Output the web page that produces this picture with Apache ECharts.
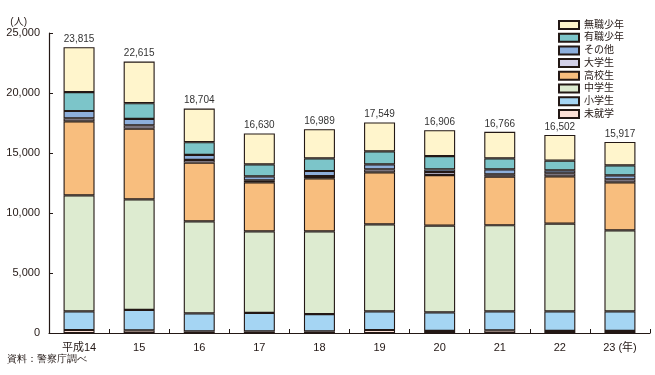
<!DOCTYPE html>
<html>
<head>
<meta charset="utf-8">
<script src="https://cdn.jsdelivr.net/npm/echarts@6/dist/echarts.min.js"></script>
<style>
html, body { margin: 0; padding: 0; background: #fff; }
#chart { width: 655px; height: 375px; }
</style>
</head>
<body>
<div id="chart"></div>
<script>
// 年次（平成）
const years = ['平成14', '15', '16', '17', '18', '19', '20', '21', '22', '23 (年)']
// 学職別の人数（下から積み上げ順）
const mishugaku = [250, 220, 140, 140, 140, 250, 170, 220, 170, 170]
const shogakusei = [1555, 1700, 1500, 1530, 1440, 1560, 1550, 1590, 1640, 1640]
const chugakusei = [9670, 9220, 7670, 6800, 6890, 7250, 7220, 7170, 7300, 6750]
const kokosei = [6165, 5890, 4890, 4090, 4420, 4330, 4220, 4050, 3950, 4000]
const daigakusei = [250, 280, 220, 170, 190, 250, 250, 200, 250, 250]
const sonota = [610, 530, 420, 330, 420, 420, 220, 410, 250, 330]
const yushoku = [1580, 1310, 1060, 1000, 1060, 1080, 1110, 920, 800, 830]
const mushoku = [3735, 3465, 2804, 2570, 2429, 2409, 2166, 2206, 2142, 1947]
// 合計（棒の上の数値）
const totals = [23815, 22615, 18704, 16630, 16989, 17549, 16906, 16766, 16502, 15917]
const yTicks = [0, 5000, 10000, 15000, 20000, 25000]

const font = '"Liberation Sans", "Noto Sans CJK JP", sans-serif'
const edge = '#231815'

const layers = [
  { name: '未就学', data: mishugaku, color: '#FCE0D6' },
  { name: '小学生', data: shogakusei, color: '#A5D5F3' },
  { name: '中学生', data: chugakusei, color: '#DDEBD0' },
  { name: '高校生', data: kokosei, color: '#F8BE7E' },
  { name: '大学生', data: daigakusei, color: '#D3D0E8' },
  { name: 'その他', data: sonota, color: '#8DAFDC' },
  { name: '有職少年', data: yushoku, color: '#7CC5C9' },
  { name: '無職少年', data: mushoku, color: '#FFF5CC' }
]

const chart = echarts.init(document.getElementById('chart'))

const series = layers.map((l, i) => {
  const s = {
    name: l.name,
    type: 'bar',
    stack: 'total',
    barWidth: 31,
    data: l.data,
    itemStyle: { color: l.color, borderColor: edge, borderWidth: 1.1 },
    emphasis: { disabled: true }
  }
  if (i === layers.length - 1) {
    // 一番上に合計を表示
    s.label = {
      show: true,
      position: 'top',
      distance: 3,
      color: '#333',
      fontSize: 10,
      fontFamily: font,
      formatter: p => totals[p.dataIndex].toLocaleString('en-US')
    }
  }
  return s
})

const option = {
  animation: false,
  textStyle: { fontFamily: font },
  grid: { left: 49, right: 5, top: 33, bottom: 42, containLabel: false },
  legend: {
    orient: 'vertical',
    left: 553,
    top: 14,
    itemWidth: 20,
    itemHeight: 8,
    itemGap: 0.7,
    icon: 'rect',
    textStyle: { fontSize: 10, lineHeight: 12, color: '#231815', fontFamily: font },
    data: layers.map(l => l.name).reverse()
  },
  xAxis: {
    type: 'category',
    data: years,
    axisLine: { lineStyle: { color: edge, width: 1.2 } },
    axisTick: { show: true, inside: true, length: 4, lineStyle: { color: edge } },
    axisLabel: { color: '#231815', fontSize: 11, margin: 9, fontFamily: font }
  },
  yAxis: {
    type: 'value',
    min: yTicks[0],
    max: yTicks[yTicks.length - 1],
    interval: yTicks[1] - yTicks[0],
    name: '(人)',
    nameLocation: 'end',
    nameGap: 6,
    nameTextStyle: { color: '#231815', fontSize: 10, align: 'right', padding: [0, 22, 0, 0] },
    axisLine: { show: true, lineStyle: { color: edge, width: 1.2 } },
    axisTick: { show: true, inside: true, length: 4, lineStyle: { color: edge } },
    splitLine: { show: false },
    axisLabel: {
      color: '#231815',
      fontSize: 11,
      margin: 9,
      fontFamily: font,
      formatter: v => v.toLocaleString('en-US')
    }
  },
  graphic: [
    {
      type: 'text',
      left: 7,
      top: 354,
      style: { text: '資料：警察庁調べ', fontSize: 10, fill: '#231815', font: '10px "Noto Sans CJK JP"' }
    }
  ],
  series: series
}

chart.setOption(option)
</script>
</body>
</html>
